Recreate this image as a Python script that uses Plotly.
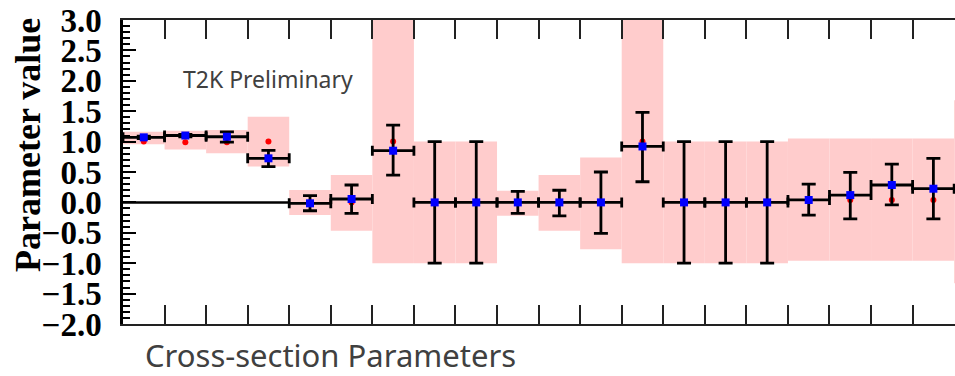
import plotly.graph_objects as go

# ---- data ----
bins = list(range(20))
centers = [b + 0.5 for b in bins]
fit_values = [1.07, 1.10, 1.08, 0.725, -0.015, 0.056, 0.85, 0.0, 0.0, 0.0,
              0.0, 0.0, 0.92, 0.0, 0.0, 0.0, 0.04, 0.12, 0.286, 0.225]
fit_err_up = [0.02, 0.02, 0.08, 0.13, 0.125, 0.23, 0.42, 1.0, 1.0, 0.18,
              0.2, 0.5, 0.56, 1.0, 1.0, 1.0, 0.26, 0.375, 0.344, 0.50]
fit_err_down = [0.02, 0.02, 0.09, 0.135, 0.122, 0.236, 0.40, 1.0, 1.0, 0.18,
                0.22, 0.51, 0.58, 1.0, 1.0, 1.0, 0.25, 0.39, 0.326, 0.495]
prior_values = [1.0, 0.99, 0.99, 1.0, 0.0, 0.0, 1.0, 0.0, 0.0, 0.0,
                0.0, 0.0, 1.0, 0.0, 0.0, 0.0, 0.04, 0.04, 0.04, 0.04]
band_bins = list(range(21))
band_low = [0.955, 0.87, 0.81, 0.59, -0.207, -0.465, -1.0, -1.0, -1.0, -0.22,
            -0.465, -0.77, -1.0, -1.0, -1.0, -1.0, -0.96, -0.96, -0.96, -0.96, -1.33]
band_high = [1.163, 1.18, 1.19, 1.41, 0.204, 0.45, 3.0, 1.0, 1.0, 0.19,
             0.45, 0.74, 3.0, 1.0, 1.0, 1.0, 1.05, 1.05, 1.05, 1.05, 1.68]
zero_line_x = [0, 4]
zero_line_y = [0, 0]
y_ticks = [3.0, 2.5, 2.0, 1.5, 1.0, 0.5, 0.0, -0.5, -1.0, -1.5, -2.0]

W, H = 955, 376
ML, MR, MT, MB = 123, 0, 20, 52
PW, PH = W - ML - MR, H - MT - MB


def px_x(px):
    return (px - ML) / PW


def px_y(py):
    return (H - MB - py) / PH


fig = go.Figure()

# prior uncertainty bands
fig.add_trace(go.Bar(
    x=[b + 0.5 for b in band_bins],
    y=[h - l for h, l in zip(band_high, band_low)],
    base=band_low,
    width=1.0,
    marker=dict(color="#ffcccc", line=dict(width=0)),
    hoverinfo="skip",
    showlegend=False,
))

# zero line
fig.add_trace(go.Scatter(
    x=zero_line_x, y=zero_line_y, mode="lines",
    line=dict(color="black", width=2.5), showlegend=False, hoverinfo="skip",
))

# prior values (red dots)
fig.add_trace(go.Scatter(
    x=centers, y=prior_values, mode="markers",
    marker=dict(color="red", size=6, symbol="circle"),
    showlegend=False,
))

# error bars
fig.add_trace(go.Scatter(
    x=centers, y=fit_values, mode="markers",
    marker=dict(color="rgba(0,0,0,0)", size=1),
    error_y=dict(type="data", symmetric=False, array=fit_err_up, arrayminus=fit_err_down,
                 color="black", thickness=2.8, width=7),
    error_x=dict(type="constant", value=0.5, color="black", thickness=2.8, width=5),
    showlegend=False,
))

# fitted values (blue squares)
fig.add_trace(go.Scatter(
    x=centers, y=fit_values, mode="markers",
    marker=dict(color="blue", size=8, symbol="square"),
    showlegend=False,
))

serif_bold = dict(family="Liberation Serif", size=33, color="black", weight="bold")

fig.update_layout(
    width=W, height=H,
    margin=dict(l=ML, r=MR, t=MT, b=MB, pad=0),
    paper_bgcolor="white", plot_bgcolor="white",
    barmode="overlay",
    showlegend=False,
    xaxis=dict(
        range=[0, 20.02],
        tickmode="array", tickvals=list(range(21)), showticklabels=False,
        ticks="inside", ticklen=19, tickwidth=2, tickcolor="#222",
        showline=True, linecolor="#222", linewidth=2, mirror="ticks",
        showgrid=False, zeroline=False,
    ),
    yaxis=dict(
        range=[-2.0, 3.0],
        tickmode="array", tickvals=y_ticks,
        ticktext=[("\u2212" if v < 0 else "") + f"{abs(v):.1f}" for v in y_ticks],
        ticks="inside", ticklen=13, tickwidth=2, tickcolor="black",
        minor=dict(dtick=0.1, ticks="inside", ticklen=7, tickwidth=1.5, tickcolor="black",
                   showgrid=False),
        showline=True, linecolor="black", linewidth=2.5, mirror=False,
        showgrid=False, zeroline=False,
        tickfont=serif_bold,
        ticklabelstandoff=12,
    ),
    annotations=[
        dict(text="Parameter value", xref="paper", yref="paper",
             x=px_x(28), y=px_y(145), textangle=-90, showarrow=False,
             xanchor="center", yanchor="middle",
             font=dict(family="Liberation Serif", size=36, color="black", weight="bold")),
        dict(text="T2K Preliminary", xref="paper", yref="paper",
             x=px_x(181), y=px_y(79), showarrow=False, xanchor="left", yanchor="middle",
             font=dict(family="Noto Sans", size=23, color="#404040")),
        dict(text="Cross-section Parameters", xref="paper", yref="paper",
             x=px_x(143), y=px_y(355), showarrow=False, xanchor="left", yanchor="middle",
             font=dict(family="Noto Sans", size=31, color="#404040")),
    ],
)

fig.write_html("out.html")
